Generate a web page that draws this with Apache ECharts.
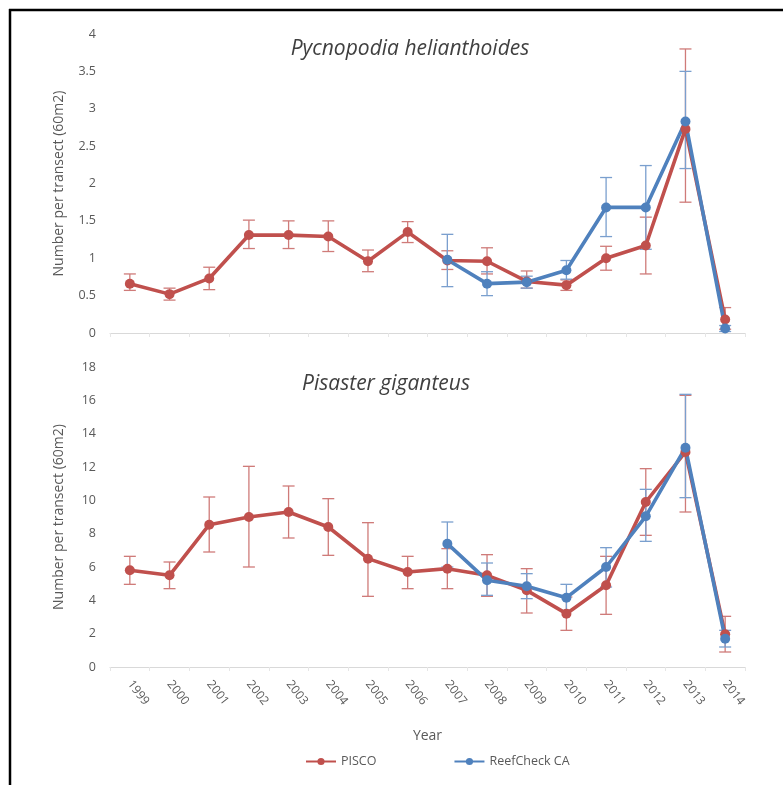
<!DOCTYPE html>
<html><head><meta charset="utf-8">
<script src="https://cdn.jsdelivr.net/npm/echarts@6/dist/echarts.min.js"></script>
<style>html,body{margin:0;padding:0;background:#fff}#c{width:783px;height:785px}</style>
</head><body><div id="c"></div>
<script>
const years = ['1999','2000','2001','2002','2003','2004','2005','2006','2007','2008','2009','2010','2011','2012','2013','2014'];
const topTitle = 'Pycnopodia helianthoides';
const botTitle = 'Pisaster giganteus';
const yName = 'Number per transect (60m2)';
const xName = 'Year';
const topTicks = {min:0, max:4, interval:0.5};
const botTicks = {min:0, max:18, interval:2};

// Pycnopodia helianthoides
const pyPisco     = [0.66,0.52,0.73,1.31,1.31,1.29,0.96,1.35,0.97,0.96,0.69,0.64,1.00,1.17,2.73,0.18];
const pyPiscoLow  = [0.57,0.44,0.58,1.13,1.13,1.09,0.82,1.21,0.85,0.79,0.60,0.57,0.84,0.79,1.75,0.05];
const pyPiscoHigh = [0.79,0.60,0.88,1.51,1.50,1.50,1.11,1.49,1.10,1.14,0.83,0.71,1.16,1.55,3.80,0.34];
const pyReef      = [null,null,null,null,null,null,null,null,0.98,0.66,0.68,0.84,1.68,1.68,2.83,0.06];
const pyReefLow   = [null,null,null,null,null,null,null,null,0.62,0.50,0.60,0.72,1.29,1.12,2.20,0.02];
const pyReefHigh  = [null,null,null,null,null,null,null,null,1.32,0.82,0.76,0.97,2.08,2.24,3.50,0.10];

// Pisaster giganteus
const pgPisco     = [5.80,5.50,8.54,9.00,9.30,8.40,6.50,5.70,5.90,5.50,4.60,3.20,4.90,9.90,12.90,1.96];
const pgPiscoLow  = [4.96,4.70,6.90,6.00,7.74,6.70,4.24,4.70,4.70,4.24,3.24,2.20,3.16,7.90,9.30,0.90];
const pgPiscoHigh = [6.64,6.30,10.20,12.04,10.86,10.10,8.66,6.64,7.10,6.74,5.90,4.20,6.64,11.90,16.30,3.04];
const pgReef      = [null,null,null,null,null,null,null,null,7.40,5.20,4.84,4.16,6.00,9.04,13.16,1.70];
const pgReefLow   = [null,null,null,null,null,null,null,null,6.00,4.30,4.10,3.40,4.80,7.54,10.16,1.20];
const pgReefHigh  = [null,null,null,null,null,null,null,null,8.70,6.24,5.60,4.96,7.16,10.66,16.36,2.20];

const RED = '#c0504d', BLUE = '#4f81bd';
const RED_E = '#cf7b79', BLUE_E = '#7a9fce';
const FONT = 'Open Sans';

function errData(low, high){
  const d = [];
  for (let i=0;i<years.length;i++){ if (low[i]!=null) d.push([i, low[i], high[i]]); }
  return d;
}
function errSeries(name, low, high, color, gi){
  return {
    type:'custom', name: name, xAxisIndex: gi, yAxisIndex: gi, z: 1, silent:true,
    data: errData(low, high),
    encode: {x:0, y:[1,2]},
    renderItem: function(params, api){
      const x = api.value(0);
      const lo = api.coord([x, api.value(1)]);
      const hi = api.coord([x, api.value(2)]);
      const w = 6;
      const st = {stroke: color, lineWidth: 1.3};
      return {type:'group', children:[
        {type:'line', shape:{x1:lo[0],y1:lo[1],x2:hi[0],y2:hi[1]}, style:st},
        {type:'line', shape:{x1:lo[0]-w,y1:lo[1],x2:lo[0]+w,y2:lo[1]}, style:st},
        {type:'line', shape:{x1:hi[0]-w,y1:hi[1],x2:hi[0]+w,y2:hi[1]}, style:st}
      ]};
    }
  };
}
function lineSeries(name, data, color, gi){
  return {
    type:'line', name:name, xAxisIndex: gi, yAxisIndex: gi, data:data, z: 3,
    symbol:'circle', symbolSize:10, connectNulls:false,
    lineStyle:{color:color, width:3.6}, itemStyle:{color:color}
  };
}
function xAxis(gi, showLabels){
  return {
    type:'category', gridIndex: gi, data: years, boundaryGap:true,
    axisLine:{show:true, lineStyle:{color:'#d9d9d9', width:1}},
    axisTick:{show:true, lineStyle:{color:'#e6e6e6'}, length:4},
    axisLabel:{show: showLabels, rotate:-52, color:'#595959', fontSize:12, fontFamily:FONT, margin:15, interval:0},
    name: showLabels ? xName : '', nameLocation:'middle', nameGap:62,
    nameTextStyle:{color:'#595959', fontSize:14, fontFamily:FONT}
  };
}
function yAxis(gi, t){
  return {
    type:'value', gridIndex: gi, min:t.min, max:t.max, interval:t.interval,
    splitLine:{show:false}, axisLine:{show:false}, axisTick:{show:false},
    axisLabel:{color:'#595959', fontSize:12.5, fontFamily:FONT, margin:14},
    name: yName, nameLocation:'middle', nameGap:44, nameRotate:90,
    nameTextStyle:{color:'#595959', fontSize:14, fontFamily:FONT}
  };
}

const chart = echarts.init(document.getElementById('c'), null, {renderer:'canvas'});
chart.setOption({
  backgroundColor:'#fff',
  animation:false,
  title:[
    {text: topTitle, left: 405, top: 34, textAlign:'center',
     textStyle:{fontStyle:'italic', fontWeight:'normal', fontSize:21, color:'#404040', fontFamily:FONT}},
    {text: botTitle, left: 381, top: 369, textAlign:'center',
     textStyle:{fontStyle:'italic', fontWeight:'normal', fontSize:21, color:'#404040', fontFamily:FONT}}
  ],
  grid:[
    {left:110, right:38, top:34, height:299},
    {left:110, right:38, top:367, height:300}
  ],
  xAxis:[xAxis(0,false), xAxis(1,true)],
  yAxis:[yAxis(0, topTicks), yAxis(1, botTicks)],
  legend:{
    data:['PISCO','ReefCheck CA'], left:300, top:750, itemGap:77, itemWidth:30, itemHeight:9,
    textStyle:{color:'#595959', fontSize:12.5, fontFamily:FONT}
  },
  graphic:[
    {type:'line', shape:{x1:9, y1:10, x2:783, y2:10}, style:{stroke:'#000', lineWidth:2.5}},
    {type:'line', shape:{x1:10, y1:9, x2:10, y2:785}, style:{stroke:'#000', lineWidth:2.5}}
  ],
  series:[
    errSeries('e1', pyPiscoLow, pyPiscoHigh, RED_E, 0),
    errSeries('e2', pyReefLow, pyReefHigh, BLUE_E, 0),
    errSeries('e3', pgPiscoLow, pgPiscoHigh, RED_E, 1),
    errSeries('e4', pgReefLow, pgReefHigh, BLUE_E, 1),
    lineSeries('PISCO', pyPisco, RED, 0),
    lineSeries('ReefCheck CA', pyReef, BLUE, 0),
    lineSeries('PISCO', pgPisco, RED, 1),
    lineSeries('ReefCheck CA', pgReef, BLUE, 1)
  ]
});
</script></body></html>
